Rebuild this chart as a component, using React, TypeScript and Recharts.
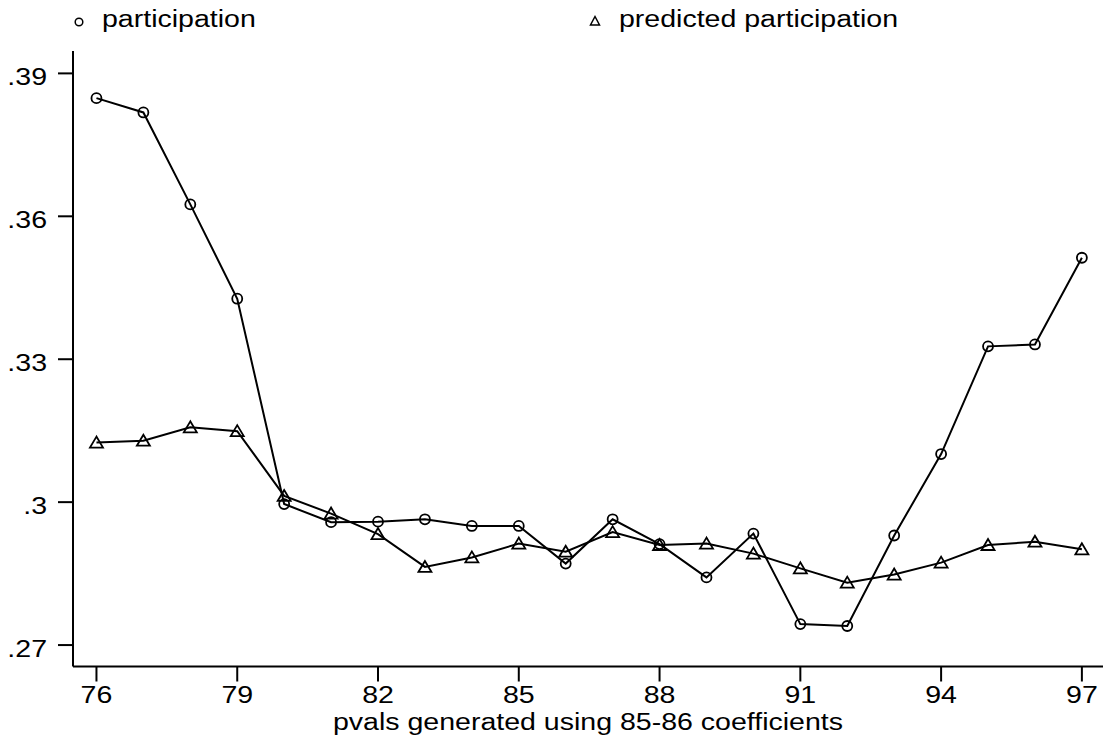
import React from 'react';
import { LineChart, Line, XAxis, YAxis, Label } from 'recharts';

const years = [76, 77, 78, 79, 80, 81, 82, 83, 84, 85, 86, 87, 88, 89, 90, 91, 92, 93, 94, 95, 96, 97];
const participation = [
  0.3848, 0.3818, 0.3625, 0.3427, 0.2996, 0.2958, 0.2959, 0.2964, 0.295, 0.295, 0.2871,
  0.2964, 0.2912, 0.2842, 0.2934, 0.2744, 0.274, 0.293, 0.3101, 0.3327, 0.3331, 0.3513,
];
const predicted = [
  0.3125, 0.3129, 0.3157, 0.3149, 0.3013, 0.2976, 0.2933, 0.2864, 0.2884, 0.2913, 0.2896,
  0.2937, 0.291, 0.2913, 0.2892, 0.2861, 0.2831, 0.2848, 0.2873, 0.291, 0.2917, 0.2901,
];
const xTicks = [76, 79, 82, 85, 88, 91, 94, 97];
const yTicks = [0.27, 0.3, 0.33, 0.36, 0.39];
const yTickLabels = ['.27', '.3', '.33', '.36', '.39'];
const seriesNames = ['participation', 'predicted participation'];
const xTitle = 'pvals generated using 85-86 coefficients';

const data = years.map((year, i) => ({
  year,
  participation: participation[i],
  predicted: predicted[i],
}));

const FONT = '"Liberation Sans", Arial, sans-serif';
const FS = 24.5;
// the original text is a bit wider than plain Arial
const STRETCH = 1.165;

const StretchText = ({ x, y, anchor, children }: any) => (
  <text
    transform={`translate(${x},${y}) scale(${STRETCH},1)`}
    textAnchor={anchor}
    fontFamily={FONT}
    fontSize={FS}
    fill="#000"
  >
    {children}
  </text>
);

const XTick = (props: any) => {
  const { x, y, payload } = props;
  return (
    <StretchText x={x} y={y + 19.5} anchor="middle">
      {payload.value}
    </StretchText>
  );
};

const YTick = (props: any) => {
  const { x, y, payload } = props;
  const idx = yTicks.findIndex((t) => Math.abs(t - payload.value) < 1e-6);
  return (
    <StretchText x={x} y={y + 11.7} anchor="end">
      {idx >= 0 ? yTickLabels[idx] : payload.value}
    </StretchText>
  );
};

const XTitle = (props: any) => {
  const vb = props.viewBox;
  return (
    <StretchText x={vb.x + vb.width / 2} y={vb.y + 63.5} anchor="middle">
      {xTitle}
    </StretchText>
  );
};

const CircleDot = (props: any) => {
  const { cx, cy, index } = props;
  return <circle key={`c-${index}`} cx={cx} cy={cy} r={5} fill="none" stroke="#000" strokeWidth={1.8} />;
};

const TriangleDot = (props: any) => {
  const { cx, cy, index } = props;
  return (
    <polygon
      key={`t-${index}`}
      points={`${cx},${cy - 6} ${cx - 6.5},${cy + 5} ${cx + 6.5},${cy + 5}`}
      fill="none"
      stroke="#000"
      strokeWidth={1.8}
    />
  );
};

const LegendOverlay = () => (
  <svg width={1103} height={40} style={{ position: 'absolute', left: 0, top: 0 }}>
    <circle cx={79} cy={22} r={3.8} fill="none" stroke="#000" strokeWidth={1.5} />
    <StretchText x={102} y={27} anchor="start">
      {seriesNames[0]}
    </StretchText>
    <polygon points="595,16.5 590.5,25 599.5,25" fill="none" stroke="#000" strokeWidth={1.5} />
    <StretchText x={619} y={27} anchor="start">
      {seriesNames[1]}
    </StretchText>
  </svg>
);

export default function App() {
  const axisStroke = { stroke: '#000', strokeWidth: 2 };
  return (
    <div style={{ position: 'absolute', left: 0, top: 0, width: 1103, height: 738, background: '#fff' }}>
      <LineChart
        width={1103}
        height={738}
        data={data}
        margin={{ top: 51, right: 0, bottom: 0, left: 0 }}
      >
        <XAxis
          dataKey="year"
          type="number"
          domain={[75.5, 97.45]}
          ticks={xTicks}
          interval={0}
          allowDataOverflow
          height={71.5}
          tickSize={15}
          tickMargin={2}
          axisLine={axisStroke}
          tickLine={axisStroke}
          tick={<XTick />}
        >
          <Label content={<XTitle />} />
        </XAxis>
        <YAxis
          type="number"
          domain={[0.2655, 0.3947]}
          ticks={yTicks}
          interval={0}
          allowDataOverflow
          width={73}
          tickSize={15}
          tickMargin={11}
          axisLine={axisStroke}
          tickLine={axisStroke}
          tick={<YTick />}
        />
        <Line
          dataKey="participation"
          name={seriesNames[0]}
          type="linear"
          stroke="#000"
          strokeWidth={2}
          dot={<CircleDot />}
          activeDot={false}
          isAnimationActive={false}
        />
        <Line
          dataKey="predicted"
          name={seriesNames[1]}
          type="linear"
          stroke="#000"
          strokeWidth={2}
          dot={<TriangleDot />}
          activeDot={false}
          isAnimationActive={false}
        />
      </LineChart>
      <LegendOverlay />
    </div>
  );
}
